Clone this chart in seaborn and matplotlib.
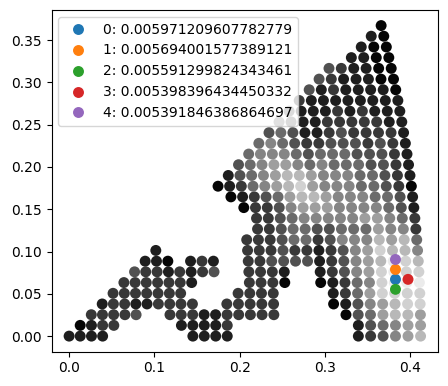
import numpy as np
import pandas as pd
import matplotlib
matplotlib.use("Agg")
import matplotlib.pyplot as plt
import seaborn as sns

# column positions (bottom of the mesh) and row heights
col_x = [0.0, 0.0130, 0.0262, 0.0393, 0.0524, 0.0656, 0.0787, 0.0918, 0.1051, 0.1184,
         0.1316, 0.1450, 0.1584, 0.1718, 0.1853, 0.1989, 0.2126, 0.2263, 0.2401, 0.2541,
         0.2680, 0.2821, 0.2962, 0.3104, 0.3246, 0.3389, 0.3533, 0.3679, 0.3824, 0.3971,
         0.4118]
row_y = [0.0, 0.0127, 0.0253, 0.0380, 0.0506, 0.0633, 0.0760, 0.0886, 0.1013, 0.1139,
         0.1266, 0.1393, 0.1519, 0.1646, 0.1772, 0.1899, 0.2026, 0.2152, 0.2279, 0.2405,
         0.2532, 0.2659, 0.2785, 0.2912, 0.3038, 0.3165, 0.3292, 0.3418, 0.3545, 0.3671]
# the mesh leans left as it goes up
row_shift = [0, 0, -0.0002, -0.0005, -0.0009, -0.0014, -0.0020, -0.0027, -0.0035, -0.0045,
             -0.0055, -0.0067, -0.0079, -0.0093, -0.0108, -0.0124, -0.0141, -0.0159, -0.0178, -0.0199,
             -0.0220, -0.0243, -0.0266, -0.0291, -0.0317, -0.0344, -0.0372, -0.0401, -0.0431, -0.0462]

# grey level per cell (digit/10), '.' = no point; first string is the bottom row
rows = [
    "1111.......1111..........123567",
    ".0122.....11112..........134566",
    "..22223..2221122222.....0346776",
    "...122112222..22222....01356788",
    "....2222222....2222....12468888",
    ".....2222221....2220..012458999",
    "......32212123..2221..123568988",
    ".......110.121..223333123567987",
    "........1.......222322123568775",
    "................222344235557674",
    ".................22344334446552",
    ".................22345555566542",
    "................022356665555431",
    "...............0123467765554431",
    "..............01245678655544320",
    "...............1345677655544321",
    "................345665454443321",
    ".................45554344433321",
    "..................4543223332321",
    "...................343112322221",
    "....................43112222211",
    ".....................3111212111",
    "......................211111111",
    ".......................31211110",
    "........................3211100",
    ".........................321100",
    "...........................1100",
    "............................100",
    ".............................10",
    "..............................0",
]

top_labels = ["0: 0.005971209607782779", "1: 0.005694001577389121",
              "2: 0.005591299824343461", "3: 0.005398396434450332",
              "4: 0.005391846386864697"]
top_x = [0.3824, 0.3824, 0.3824, 0.3971, 0.3824]
top_y = [0.0671, 0.0788, 0.0553, 0.0671, 0.0906]

xs, ys, gs = [], [], []
for j, r in enumerate(rows):
    for i, ch in enumerate(r):
        if ch == ".":
            continue
        xs.append(col_x[i] + row_shift[j])
        ys.append(row_y[j])
        gs.append(int(ch) / 10 + 0.02)
grid = pd.DataFrame({"x": xs, "y": ys, "v": gs})
best = pd.DataFrame({"x": top_x, "y": top_y, "label": top_labels})

fig, ax = plt.subplots(figsize=(4.48, 3.86), dpi=100)
fig.subplots_adjust(left=0.115, right=0.978, bottom=0.089, top=0.974)

sns.scatterplot(data=grid, x="x", y="y", hue="v", palette="gray", hue_norm=(0, 1),
                s=62, linewidth=0, legend=False, ax=ax)
sns.scatterplot(data=best, x="x", y="y", hue="label",
                palette=["C0", "C1", "C2", "C3", "C4"], s=62, linewidth=0, ax=ax)

handles, labels = ax.get_legend_handles_labels()
ax.legend(handles, labels, loc="upper left")
ax.set(xlabel="", ylabel="")

plt.savefig("out.png", dpi=100)
